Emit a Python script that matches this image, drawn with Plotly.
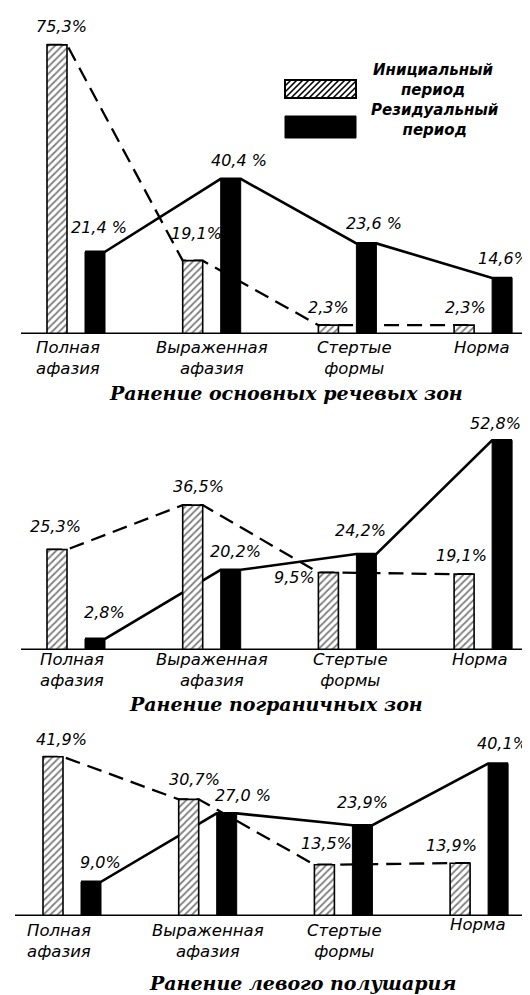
import plotly.graph_objects as go

# ---------------- data ----------------
cat_line1 = ["Полная", "Выраженная", "Стертые", "Норма"]
cat_line2 = ["афазия", "афазия", "формы", ""]
panel_titles = ["Ранение основных речевых зон", "Ранение пограничных зон", "Ранение левого полушария"]
legend_initial = ["Инициальный", "период"]
legend_residual = ["Резидуальный", "период"]

initial_speech = [75.3, 19.1, 2.3, 2.3]
residual_speech = [21.4, 40.4, 23.6, 14.6]
labels_initial_speech = ["75,3%", "19,1%", "2,3%", "2,3%"]
labels_residual_speech = ["21,4 %", "40,4 %", "23,6 %", "14,6%"]

initial_border = [25.3, 36.5, 19.5, 19.1]   # third bar is drawn at ~19.5 although printed "9,5%"
residual_border = [2.8, 20.2, 24.2, 52.8]
labels_initial_border = ["25,3%", "36,5%", "9,5%", "19,1%"]
labels_residual_border = ["2,8%", "20,2%", "24,2%", "52,8%"]

initial_left = [41.9, 30.7, 13.5, 13.9]
residual_left = [9.0, 27.0, 23.9, 40.1]
labels_initial_left = ["41,9%", "30,7%", "13,5%", "13,9%"]
labels_residual_left = ["9,0%", "27,0 %", "23,9%", "40,1%"]

# ---------------- style / layout constants ----------------
W, H = 530, 995
SP = 135.7            # px per category
BW = 20 / SP          # bar width (axis units)
OFF_I = -29 / SP      # left edge offset of initial bar
OFF_R = 9 / SP        # left edge offset of residual bar
VIS = 5               # text box middle sits this many px above the visual glyph centre

panels = [
    dict(init=initial_speech, res=residual_speech, li=labels_initial_speech, lr=labels_residual_speech,
         title=panel_titles[0], base=326, top=0, ppu=3.84, x0px=68,
         di=[(4, 13), (4, 22), (0, 13), (1, 13)], dr=[(4, 19), (8, 13), (8, 15), (1, 14)],
         cat_y=(345, 363, 345), cs=[-8, 0, 7, -1],
         title_xy=(278, 388), base_x=(13, 524)),
    dict(init=initial_border, res=residual_border, li=labels_initial_border, lr=labels_residual_border,
         title=panel_titles[1], base=642, top=400, ppu=3.97, x0px=68,
         di=[(-2, 18), (6, 14), (-34, -10), (-3, 14)], dr=[(9, 21), (5, 13), (-6, 18), (-7, 12)],
         cat_y=(656, 675, 656), cs=[-4, 0, 3, -3],
         title_xy=(268, 699), base_x=(13, 526)),
    dict(init=initial_left, res=residual_left, li=labels_initial_left, lr=labels_residual_left,
         title=panel_titles[2], base=908, top=730, ppu=3.8, x0px=64,
         di=[(8, 12), (6, 15), (2, 16), (-9, 13)], dr=[(9, 14), (16, 13), (0, 18), (4, 15)],
         cat_y=(926, 948, 921), cs=[-13, 0, 1, -1],
         title_xy=(294, 978), base_x=(7, 520)),
]

VAL_FONT = dict(family="DejaVu Sans", size=16, color="black", style="italic")
CAT_FONT = dict(family="DejaVu Sans", size=16.5, color="black", style="italic")
TITLE_FONT = dict(family="DejaVu Serif", size=19, color="black", style="italic", weight="bold")
LEG_FONT = dict(family="DejaVu Sans", size=15, color="black", style="italic", weight="bold")


def px(x):
    return x / W


def py(y):
    return 1 - y / H


fig = go.Figure()
annotations = []
shapes = []
layout_axes = {}

for k, p in enumerate(panels):
    nb, no = 2 * k + 1, 2 * k + 2
    xb = "x" if nb == 1 else f"x{nb}"
    yb = "y" if nb == 1 else f"y{nb}"
    xo, yo = f"x{no}", f"y{no}"
    xr = [-p["x0px"] / SP, (W - p["x0px"]) / SP]
    yr = [0, (p["base"] - p["top"]) / p["ppu"]]
    dom = [py(p["base"]), py(p["top"])]
    layout_axes["xaxis" if nb == 1 else f"xaxis{nb}"] = dict(domain=[0, 1], range=xr, visible=False, anchor=yb)
    layout_axes[f"yaxis{'' if nb == 1 else nb}"] = dict(domain=dom, range=yr, visible=False, anchor=xb)
    layout_axes[f"xaxis{no}"] = dict(domain=[0, 1], range=xr, visible=False, overlaying=xb, anchor=yo)
    layout_axes[f"yaxis{no}"] = dict(domain=dom, range=yr, visible=False, overlaying=yb, anchor=xo)

    idx = list(range(len(cat_line1)))
    # connecting lines (drawn beneath the bars)
    for vals, off, dash, lw in [(p["init"], OFF_I, "15px,8px", 2.3), (p["res"], OFF_R, "solid", 2.6)]:
        lx, ly = [], []
        for i, v in zip(idx, vals):
            lx += [i + off, i + off + BW]
            ly += [v, v]
        fig.add_trace(go.Scatter(x=lx, y=ly, mode="lines", xaxis=xb, yaxis=yb, showlegend=False,
                                 line=dict(color="black", width=lw, dash=dash), hoverinfo="skip"))
    # bars
    fig.add_trace(go.Bar(x=idx, y=p["init"], width=BW, offset=OFF_I, xaxis=xo, yaxis=yo,
                         name=" ".join(legend_initial), showlegend=False,
                         marker=dict(color="white",
                                     pattern=dict(shape="/", fgcolor="black", bgcolor="white", size=5, solidity=0.35),
                                     line=dict(color="black", width=1.6))))
    fig.add_trace(go.Bar(x=idx, y=p["res"], width=BW, offset=OFF_R, xaxis=xo, yaxis=yo,
                         name=" ".join(legend_residual), showlegend=False,
                         marker=dict(color="black", line=dict(color="black", width=1))))
    # value labels
    for vals, lbls, off, d in [(p["init"], p["li"], OFF_I, p["di"]), (p["res"], p["lr"], OFF_R, p["dr"])]:
        for i, v, t, (dx, dy) in zip(idx, vals, lbls, d):
            annotations.append(dict(x=i + off + BW / 2, y=v, xref=xo, yref=yo, text=t, showarrow=False,
                                    xanchor="center", yanchor="middle", xshift=dx, yshift=dy + VIS,
                                    font=VAL_FONT))
    # baseline
    shapes.append(dict(type="line", xref="paper", yref=yb, x0=px(p["base_x"][0]), x1=px(p["base_x"][1]),
                       y0=0, y1=0, line=dict(color="black", width=3)))
    # category labels
    y1, y2, yn = p["cat_y"]
    for i, (t1, t2) in enumerate(zip(cat_line1, cat_line2)):
        if t2:
            txt, yc = t1 + "<br>" + t2, (y1 + y2) / 2 - 4
        else:
            txt, yc = t1, yn - VIS
        annotations.append(dict(x=i, xref=xb, y=py(yc), yref="paper", text=txt, align="center",
                                showarrow=False, xanchor="center", yanchor="middle", xshift=p["cs"][i],
                                borderpad=0, font=CAT_FONT))
    # panel title
    annotations.append(dict(x=px(p["title_xy"][0]), y=py(p["title_xy"][1] - 3), xref="paper", yref="paper",
                            text=p["title"], showarrow=False, xanchor="center", yanchor="middle",
                            borderpad=0, font=TITLE_FONT))

# ---------------- legend (drawn) ----------------
lx0, lx1 = 277, 348
hy0, hy1 = 72, 90
shapes.append(dict(type="rect", xref="paper", yref="paper", x0=px(lx0), x1=px(lx1), y0=py(hy1), y1=py(hy0),
                   fillcolor="white", line=dict(color="black", width=2)))
hh = hy1 - hy0
path = ""
c = lx0 - hh
while c < lx1:
    tmin = max(0.0, (lx0 - c) / hh)
    tmax = min(1.0, (lx1 - c) / hh)
    if tmin < tmax:
        xa, ya = c + tmin * hh, hy1 - tmin * hh
        xb2, yb2 = c + tmax * hh, hy1 - tmax * hh
        path += f"M{px(xa):.5f},{py(ya):.5f} L{px(xb2):.5f},{py(yb2):.5f} "
    c += 6
shapes.append(dict(type="path", xref="paper", yref="paper", path=path, line=dict(color="black", width=1.6)))
shapes.append(dict(type="rect", xref="paper", yref="paper", x0=px(lx0), x1=px(lx1), y0=py(130), y1=py(108),
                   fillcolor="black", line=dict(color="black", width=1)))
for (lines, xc, yc) in [(legend_initial, 425, 72), (legend_residual, 427, 112)]:
    annotations.append(dict(x=px(xc), y=py(yc), xref="paper", yref="paper", text="<br>".join(lines),
                            showarrow=False, xanchor="center", yanchor="middle", align="center", font=LEG_FONT))

fig.update_layout(width=W, height=H, margin=dict(l=0, r=0, t=0, b=0),
                  paper_bgcolor="white", plot_bgcolor="rgba(0,0,0,0)", barmode="overlay",
                  annotations=annotations, shapes=shapes, **layout_axes)

fig.write_html("out.html")
